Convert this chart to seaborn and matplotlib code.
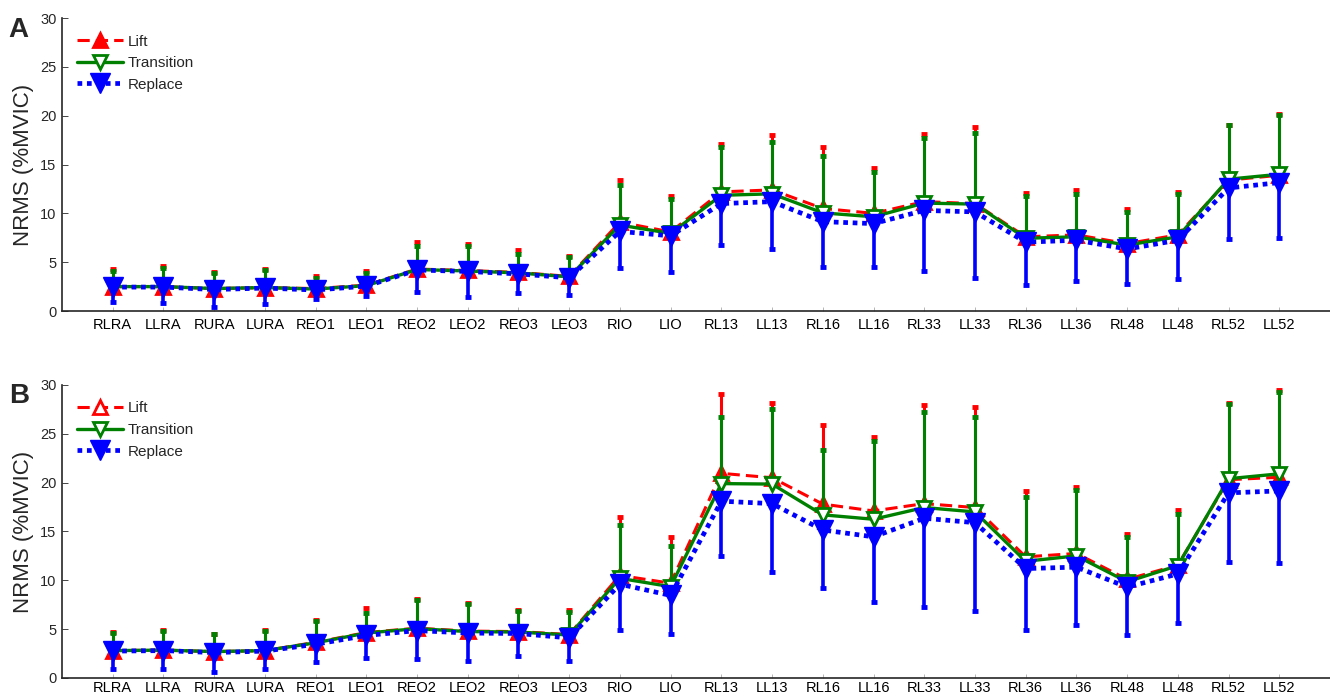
import numpy as np
import pandas as pd
import matplotlib
matplotlib.use("Agg")
import matplotlib.pyplot as plt
import seaborn as sns

# muscle sites on the x axis
muscles = ["RLRA", "LLRA", "RURA", "LURA", "REO1", "LEO1", "REO2", "LEO2", "REO3", "LEO3",
           "RIO", "LIO", "RL13", "LL13", "RL16", "LL16", "RL33", "LL33", "RL36", "LL36",
           "RL48", "LL48", "RL52", "LL52"]

# panel A: mean and SD (%MVIC)
a_lift_mean = [2.5, 2.5, 2.3, 2.4, 2.3, 2.65, 4.3, 4.15, 3.95, 3.55, 9.1, 8.1,
               12.2, 12.4, 10.5, 10.0, 11.2, 11.0, 7.6, 7.8, 6.9, 7.8, 13.4, 13.9]
a_lift_sd = [1.8, 2.1, 1.7, 1.95, 1.3, 1.45, 2.8, 2.75, 2.25, 2.05, 4.3, 3.7,
             4.9, 5.6, 6.3, 4.6, 6.9, 7.8, 4.5, 4.6, 3.5, 4.35, 5.6, 6.3]
a_trans_mean = [2.5, 2.5, 2.3, 2.4, 2.25, 2.6, 4.25, 4.1, 3.9, 3.5, 8.8, 7.95,
                11.85, 12.0, 10.05, 9.65, 11.05, 10.95, 7.45, 7.6, 6.75, 7.6, 13.5, 14.0]
a_trans_sd = [1.6, 1.95, 1.6, 1.8, 1.15, 1.3, 2.4, 2.55, 1.9, 2.05, 4.1, 3.55,
              4.95, 5.3, 5.85, 4.6, 6.65, 7.3, 4.35, 4.4, 3.4, 4.35, 5.5, 6.05]
a_repl_mean = [2.45, 2.45, 2.2, 2.35, 2.15, 2.55, 4.2, 4.05, 3.8, 3.4, 8.15, 7.7,
               11.0, 11.2, 9.15, 8.95, 10.3, 10.15, 7.05, 7.25, 6.35, 7.25, 12.6, 13.15]
a_repl_sd = [1.5, 1.65, 1.75, 1.65, 0.9, 1.0, 2.3, 2.65, 2.0, 1.8, 3.75, 3.7,
             4.25, 4.8, 4.65, 4.45, 6.2, 6.8, 4.4, 4.2, 3.55, 4.0, 5.25, 5.7]

# panel B: mean and SD (%MVIC)
b_lift_mean = [2.8, 2.85, 2.7, 2.8, 3.65, 4.65, 5.1, 4.8, 4.75, 4.45, 10.5, 9.7,
               20.95, 20.5, 17.8, 17.1, 17.85, 17.45, 12.4, 12.75, 10.1, 11.55, 20.3, 20.55]
b_lift_sd = [1.95, 2.05, 1.85, 2.1, 2.3, 2.55, 2.95, 2.9, 2.25, 2.5, 6.0, 4.75,
             8.1, 7.7, 8.1, 7.6, 10.1, 10.3, 6.75, 6.85, 4.65, 5.65, 7.9, 8.95]
b_trans_mean = [2.8, 2.85, 2.7, 2.8, 3.6, 4.6, 5.05, 4.75, 4.7, 4.4, 10.2, 9.35,
                19.9, 19.85, 16.7, 16.25, 17.45, 17.0, 11.95, 12.5, 9.85, 11.5, 20.4, 20.9]
b_trans_sd = [1.85, 2.0, 1.85, 2.05, 2.25, 2.1, 2.95, 2.85, 2.2, 2.4, 5.45, 4.2,
              6.85, 7.65, 6.6, 8.0, 9.75, 9.7, 6.55, 6.75, 4.6, 5.3, 7.7, 8.4]
b_repl_mean = [2.75, 2.8, 2.6, 2.75, 3.45, 4.35, 4.85, 4.6, 4.55, 4.1, 9.6, 8.45,
               18.1, 17.85, 15.15, 14.45, 16.35, 15.9, 11.2, 11.35, 9.3, 10.65, 18.95, 19.15]
b_repl_sd = [1.85, 1.9, 1.95, 1.85, 1.8, 2.35, 2.95, 2.85, 2.3, 2.35, 4.7, 3.95,
             5.6, 7.05, 5.95, 6.65, 9.05, 9.0, 6.3, 5.95, 4.9, 5.05, 7.1, 7.35]

sns.set_style("ticks")
plt.rcParams["font.family"] = ["Liberation Sans", "DejaVu Sans"]
plt.rcParams["xtick.direction"] = "in"
plt.rcParams["ytick.direction"] = "in"

x = np.arange(1, len(muscles) + 1)


def draw_panel(ax, panel, lift, trans, repl, legend_lift_open, xpad):
    df = pd.DataFrame({"x": x,
                       "lift": lift[0], "trans": trans[0], "repl": repl[0]})
    zeros = np.zeros(len(x))

    # Lift: red, dashed, error bar upward
    ax.errorbar(x, lift[0], yerr=[zeros, lift[1]], fmt="none", ecolor="red",
                elinewidth=2.2, capsize=2, capthick=3.5, zorder=2)
    sns.lineplot(data=df, x="x", y="lift", ax=ax, color="red", linestyle=(0, (4, 2)),
                 linewidth=2.2, marker="^", markersize=10, markeredgewidth=2,
                 markeredgecolor="red", markerfacecolor="red",
                 label="Lift", zorder=3)
    # Transition: green, solid, error bar upward
    ax.errorbar(x, trans[0], yerr=[zeros, trans[1]], fmt="none", ecolor="green",
                elinewidth=2.2, capsize=2, capthick=3.5, zorder=4)
    sns.lineplot(data=df, x="x", y="trans", ax=ax, color="green", linestyle="-",
                 linewidth=2.4, marker="v", markersize=10, markeredgewidth=2,
                 markeredgecolor="green", markerfacecolor="white",
                 label="Transition", zorder=5)
    # Replace: blue, dotted, error bar downward
    ax.errorbar(x, repl[0], yerr=[repl[1], zeros], fmt="none", ecolor="blue",
                elinewidth=2.6, capsize=2, capthick=3.5, zorder=6)
    sns.lineplot(data=df, x="x", y="repl", ax=ax, color="blue", linestyle=(0, (1, 1)),
                 linewidth=3.4, marker="v", markersize=14, markeredgewidth=1,
                 markeredgecolor="blue", markerfacecolor="blue",
                 label="Replace", zorder=7)

    ax.set_xlim(0, 25)
    ax.set_ylim(0, 30)
    ax.set_xticks(x)
    ax.set_xticklabels(muscles, fontsize=10.5)
    ax.set_yticks(np.arange(0, 31, 5))
    ax.tick_params(axis="y", labelsize=10.5, length=4, width=0.6, pad=4)
    ax.tick_params(axis="x", length=3, width=0.5, colors="#999999", labelcolor="black", pad=xpad)
    ax.set_xlabel("")
    ax.set_ylabel("NRMS (%MVIC)", fontsize=16, labelpad=4)
    sns.despine(ax=ax)
    ax.spines["left"].set_linewidth(1.2)
    ax.spines["bottom"].set_linewidth(1.2)

    leg = ax.legend(loc="upper left", bbox_to_anchor=(0.005, 0.975), frameon=False,
                    fontsize=11, handlelength=3.0, handletextpad=0.3, labelspacing=0.5,
                    borderaxespad=0.2)
    if legend_lift_open:
        leg.legend_handles[0].set_markerfacecolor("white")
    ax.text(-0.042, 1.005, panel, transform=ax.transAxes, fontsize=20,
            fontweight="bold", ha="left", va="top")


fig = plt.figure(figsize=(13.3, 6.98), dpi=100)
ax_a = fig.add_axes([0.0466, 0.5544, 0.9534, 0.4198])
ax_b = fig.add_axes([0.0466, 0.0287, 0.9534, 0.4198])

draw_panel(ax_a, "A", (a_lift_mean, a_lift_sd), (a_trans_mean, a_trans_sd),
           (a_repl_mean, a_repl_sd), legend_lift_open=False, xpad=5)
draw_panel(ax_b, "B", (b_lift_mean, b_lift_sd), (b_trans_mean, b_trans_sd),
           (b_repl_mean, b_repl_sd), legend_lift_open=True, xpad=2.5)

fig.savefig("out.png", dpi=100)
